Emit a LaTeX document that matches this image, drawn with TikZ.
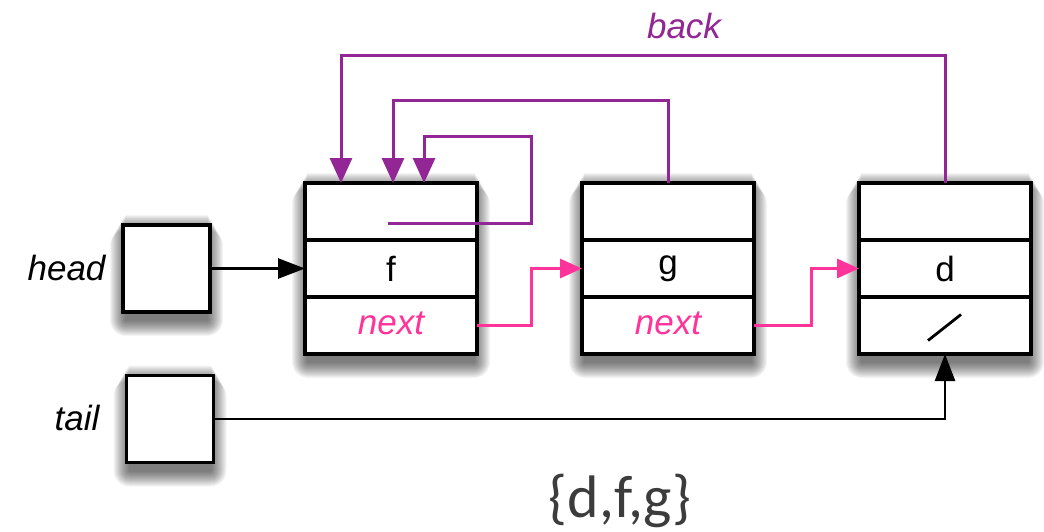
\documentclass[tikz,border=0pt]{standalone}
\usepackage{fontspec}
\setmainfont{Liberation Sans}
\newfontfamily\setfont{Carlito}
\usetikzlibrary{arrows.meta,calc}
\definecolor{purp}{RGB}{146,38,148}
\definecolor{hotpink}{RGB}{255,51,153}
\definecolor{setgray}{RGB}{60,60,60}
\pgfdeclarelayer{bg}
\pgfsetlayers{bg,main}
\tikzset{
  cell/.style={draw, line width=3.4pt, fill=white, minimum width=172pt, minimum height=57pt,
    inner sep=0pt, outer sep=0pt, anchor=north west, font=\fontsize{35}{40}\selectfont},
  ptr/.style={draw, line width=3.4pt, fill=white, minimum width=87pt, minimum height=87pt,
    inner sep=0pt, outer sep=0pt},
  lbl/.style={font=\fontsize{35}{40}\selectfont\itshape},
  backarr/.style={draw=purp, line width=3pt, -{Triangle[length=25pt,width=22pt]}},
  nextarr/.style={draw=hotpink, line width=3pt, -{Triangle[length=22pt,width=19pt]}},
  blackarr/.style={draw=black, line width=2.6pt, -{Triangle[length=27pt,width=20pt]}},
}
\newcommand\softshadow[2]{%
  \foreach \i in {1,...,16}{%
    \fill[black, opacity=0.042, rounded corners=\i pt]
      ($(#1.north west)+(-\i pt+3pt, 11pt-\i pt)$) rectangle ($(#2.south east)+(\i pt-3pt, -8pt-\i pt)$);
  }%
}
\begin{document}
\begin{tikzpicture}[x=1pt,y=-1pt]
\useasboundingbox (0,0) rectangle (1044,531);

% list nodes
\node[cell] (f1) at (305,183) {};
\node[cell] (f2) at (f1.south west) {f};
\node[cell] (f3) at (f2.south west) {\raisebox{5pt}{\textcolor{hotpink}{\itshape next}}};

\node[cell] (g1) at (582,183) {};
\node[cell] (g2) at (g1.south west) {g};
\node[cell] (g3) at (g2.south west) {\raisebox{5pt}{\textcolor{hotpink}{\itshape next}}};

\node[cell] (d1) at (859,183) {};
\node[cell] (d2) at (d1.south west) {d};
\node[cell] (d3) at (d2.south west) {};
\coordinate (slashA) at ($(d3.center)+(-17,15)$);
\coordinate (slashB) at ($(d3.center)+(16,-11)$);
\draw[line width=2.8pt] (slashA) -- (slashB);

% head / tail
\node[ptr] (head) at (166.5,268.5) {};
\node[ptr] (tail) at (170,419) {};
\node[lbl, anchor=east] (headlbl) at (109,268) {head};
\node[lbl, anchor=east] (taillbl) at (103,418) {tail};

% shadows
\begin{pgfonlayer}{bg}
\softshadow{f1}{f3}
\softshadow{g1}{g3}
\softshadow{d1}{d3}
\softshadow{head}{head}
\softshadow{tail}{tail}
\end{pgfonlayer}

% black pointers
\draw[blackarr] (head.east) -- (f2.west);
\draw[blackarr] (tail.east) -| (d3.south);

% next pointers
\coordinate (fn) at (531,0);
\coordinate (gn) at (811,0);
\draw[nextarr] (f3.east) -| (fn |- f3.east) |- (g2.west);
\draw[nextarr] (g3.east) -| (gn |- g3.east) |- (d2.west);

% back pointers
\coordinate (bk1) at (341,55);
\coordinate (bk2) at (393,100);
\coordinate (bk3) at (424,136);
\coordinate (fs) at (388,223);
\coordinate (fsr) at (531,223);
\draw[backarr] (d1.north) |- (bk1) -- (bk1 |- f1.north);
\draw[backarr] (g1.north) |- (bk2) -- (bk2 |- f1.north);
\draw[backarr] (fs) -- (fsr) |- (bk3) -- (bk3 |- f1.north);
\node[lbl, text=purp] (backlbl) at (684,26) {back};

% set
\node[font=\setfont\fontsize{60}{66}\selectfont, text=setgray] (set) at (620,501) {\{d,f,g\}};
\end{tikzpicture}
\end{document}
